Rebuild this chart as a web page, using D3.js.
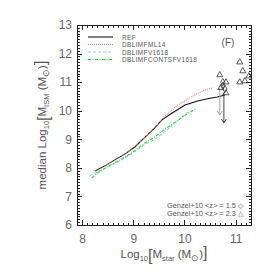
<!DOCTYPE html>
<html lang="en">
<head>
    <meta charset="UTF-8">
    <title>median ISM mass vs stellar mass</title>
    <script src="https://cdnjs.cloudflare.com/ajax/libs/d3/7.8.5/d3.min.js"></script>
    <style>
        body { margin: 0; background: #fff; }
        .axis path { fill: none; stroke: #222; }
        .axis line { stroke: #222; shape-rendering: crispEdges; }
        .axis text { font-family: "Liberation Sans", sans-serif; font-size: 12px; fill: #666; }
        .lbl { font-family: "Liberation Sans", sans-serif; fill: #555; }
    </style>
</head>
<body>
<script type="text/javascript">
    const width = 274;
    const height = 274;
    const margin = {left: 77, right: 23, top: 25, bottom: 49};

    const xTicks = [8, 9, 10, 11];
    const yTicks = [6, 7, 8, 9, 10, 11, 12, 13];

    const seriesNames = ["REF", "DBLIMFML14", "DBLIMFV1618", "DBLIMFCONTSFV1618"];
    const refData = [[8.25, 7.89], [8.45, 8.07], [8.64, 8.28], [8.84, 8.49], [9.03, 8.73], [9.2, 9.02],
                     [9.3, 9.2], [9.42, 9.40], [9.56, 9.68], [9.76, 9.92], [10.01, 10.2], [10.26, 10.34],
                     [10.45, 10.42], [10.64, 10.48], [10.79, 10.55]];
    const ml14Data = [[8.25, 7.89], [8.45, 8.07], [8.64, 8.28], [8.84, 8.50], [9.03, 8.75], [9.2, 9.03],
                      [9.42, 9.42], [9.6, 9.78], [9.75, 10.02], [9.87, 10.2], [10.1, 10.45], [10.25, 10.6],
                      [10.4, 10.73], [10.54, 10.8]];
    const v1618Data = [[8.15, 7.72], [8.3, 7.86], [8.45, 7.98], [8.64, 8.15], [8.84, 8.35], [9.03, 8.57],
                       [9.23, 8.82], [9.42, 9.0], [9.62, 9.27], [9.8, 9.55], [9.95, 9.78], [10.07, 9.96]];
    const contsfData = [[8.19, 7.65], [8.3, 7.82], [8.45, 8.0], [8.64, 8.18], [8.84, 8.38], [9.03, 8.6],
                        [9.23, 8.87], [9.42, 9.08], [9.62, 9.36], [9.82, 9.6], [10.0, 9.83], [10.21, 10.06]];

    // Genzel+10 observations
    const genzelZ15 = [[10.75, 11.0], [10.75, 10.87], [10.79, 10.76]];
    const genzelZ23 = [[11.08, 11.7], [11.14, 11.39], [11.08, 11.0], [11.18, 11.04], [11.26, 11.21],
                       [10.69, 11.25], [10.71, 10.8], [10.81, 10.62], [10.81, 11.0]];
    // upper limits: [x, from, to]
    const upperLimits = [[10.69, 10.8, 9.85], [10.77, 10.62, 9.57]];

    const series = [
        {data: refData, color: "#111", dash: null, w: 1.1},
        {data: ml14Data, color: "#f08080", dash: "1,1", w: 1.1},
        {data: v1618Data, color: "#87cefa", dash: "3,2", w: 1.1},
        {data: contsfData, color: "#22e022", dash: "3,1.5,1,1.5", w: 1.1}
    ];

    const xScale = d3.scaleLinear().domain([7.9, 11.3]).range([margin.left, width - margin.right]);
    const yScale = d3.scaleLinear().domain([6, 13]).range([height - margin.bottom, margin.top]);

    const svg = d3.select('body').append('svg')
        .attr('width', width)
        .attr('height', height);

    svg.append('clipPath').attr('id', 'clip')
        .append('rect')
        .attr('x', margin.left).attr('y', margin.top)
        .attr('width', width - margin.left - margin.right)
        .attr('height', height - margin.top - margin.bottom);

    const minorX = d3.range(79, 114).map(d => d / 10);
    const minorY = d3.range(60, 131).map(d => d / 10);

    // axes, ticks pointing inward on all four sides
    function addAxis(axis, tr) {
        return svg.append('g').attr('class', 'axis').attr('transform', tr).call(axis);
    }
    const bottomY = height - margin.bottom;
    const rightX = width - margin.right;

    addAxis(d3.axisBottom(xScale).tickValues(minorX).tickSize(-2.5).tickFormat(''), `translate(0,${bottomY})`);
    addAxis(d3.axisBottom(xScale).tickValues(xTicks).tickSize(-5).tickPadding(9).tickFormat(d3.format('d')), `translate(0,${bottomY})`);
    addAxis(d3.axisTop(xScale).tickValues(minorX).tickSize(-2.5).tickFormat(''), `translate(0,${margin.top})`);
    addAxis(d3.axisTop(xScale).tickValues(xTicks).tickSize(-5).tickFormat(''), `translate(0,${margin.top})`);
    addAxis(d3.axisLeft(yScale).tickValues(minorY).tickSize(-2.5).tickFormat(''), `translate(${margin.left},0)`);
    addAxis(d3.axisLeft(yScale).tickValues(yTicks).tickSize(-5).tickPadding(5).tickFormat(d3.format('d')), `translate(${margin.left},0)`);
    addAxis(d3.axisRight(yScale).tickValues(minorY).tickSize(-2.5).tickFormat(''), `translate(${rightX},0)`);
    addAxis(d3.axisRight(yScale).tickValues(yTicks).tickSize(-5).tickFormat(''), `translate(${rightX},0)`);

    // model curves
    const line = d3.line().x(d => xScale(d[0])).y(d => yScale(d[1]));
    const plot = svg.append('g').attr('clip-path', 'url(#clip)');
    series.forEach(function(s) {
        plot.append('path')
            .datum(s.data)
            .attr('d', line)
            .attr('fill', 'none')
            .attr('stroke', s.color)
            .attr('stroke-width', s.w)
            .attr('stroke-dasharray', s.dash);
    });

    // upper limit arrows
    plot.selectAll('.ul')
        .data(upperLimits)
        .enter()
        .append('path')
        .attr('class', 'ul')
        .attr('d', function(d) {
            const x = xScale(d[0]), y0 = yScale(d[1]), y1 = yScale(d[2]);
            return `M${x},${y0}V${y1}M${x - 2.5},${y1 - 4}L${x},${y1}L${x + 2.5},${y1 - 4}`;
        })
        .attr('fill', 'none')
        .attr('stroke', (d, i) => i === 0 ? '#999' : '#333')
        .attr('stroke-width', 0.9);

    plot.selectAll('.tri')
        .data(genzelZ23)
        .enter()
        .append('path')
        .attr('transform', d => `translate(${xScale(d[0])},${yScale(d[1])})`)
        .attr('d', d3.symbol().type(d3.symbolTriangle).size(16))
        .attr('fill', 'none')
        .attr('stroke', '#333')
        .attr('stroke-width', 0.8);

    plot.selectAll('.dia')
        .data(genzelZ15)
        .enter()
        .append('path')
        .attr('transform', d => `translate(${xScale(d[0])},${yScale(d[1])})`)
        .attr('d', d3.symbol().type(d3.symbolDiamond).size(16))
        .attr('fill', 'none')
        .attr('stroke', '#333')
        .attr('stroke-width', 0.8);

    // legend
    const legend = svg.append('g');
    series.forEach(function(s, i) {
        const y = 37 + i * 7.5;
        legend.append('line')
            .attr('x1', 88).attr('x2', 113).attr('y1', y).attr('y2', y)
            .attr('stroke', s.color)
            .attr('stroke-width', s.w)
            .attr('stroke-dasharray', s.dash);
        legend.append('text')
            .attr('class', 'lbl')
            .attr('x', 122).attr('y', y + 2.5)
            .attr('font-size', '6.5px')
            .attr('letter-spacing', '0.35px')
            .text(seriesNames[i]);
    });

    svg.append('text').attr('class', 'lbl')
        .attr('x', 228).attr('y', 46)
        .attr('text-anchor', 'middle')
        .attr('font-size', '10px')
        .text('(F)');

    svg.append('text').attr('class', 'lbl')
        .attr('x', 243).attr('y', 208)
        .attr('text-anchor', 'end')
        .attr('font-size', '7.4px')
        .text('Genzel+10 <z> = 1.5 \u25C7');
    svg.append('text').attr('class', 'lbl')
        .attr('x', 243).attr('y', 216)
        .attr('text-anchor', 'end')
        .attr('font-size', '7.4px')
        .text('Genzel+10 <z> = 2.3 \u25B3');

    // axis titles
    function titleParts(t, parts) {
        parts.forEach(function(p) {
            const ts = t.append('tspan').text(p[0]);
            if (p[1] === 'sub') ts.attr('font-size', '7.5px').attr('dy', 3);
            if (p[1] === 'up') ts.attr('dy', -3);
            if (p[1] === 'br') ts.attr('font-size', '16px');
            if (p[1] === 'subsun') ts.attr('font-size', '8.5px').attr('dy', 3);
        });
    }
    const xTitle = svg.append('text').attr('class', 'lbl')
        .attr('x', 164).attr('y', 258)
        .attr('text-anchor', 'middle')
        .attr('font-size', '11.5px');
    titleParts(xTitle, [['Log'], ['10', 'sub'], ['[', 'br'], ['M', 'up'], ['star', 'sub'], [' (M', 'up'], ['\u2299', 'subsun'], [')', 'up'], [']', 'br']]);

    const yTitle = svg.append('text').attr('class', 'lbl')
        .attr('transform', 'translate(46,125) rotate(-90)')
        .attr('text-anchor', 'middle')
        .attr('font-size', '11.5px');
    titleParts(yTitle, [['median Log'], ['10', 'sub'], ['[', 'br'], ['M', 'up'], ['ISM', 'sub'], [' (M', 'up'], ['\u2299', 'subsun'], [')', 'up'], [']', 'br']]);
</script>
</body>
</html>
